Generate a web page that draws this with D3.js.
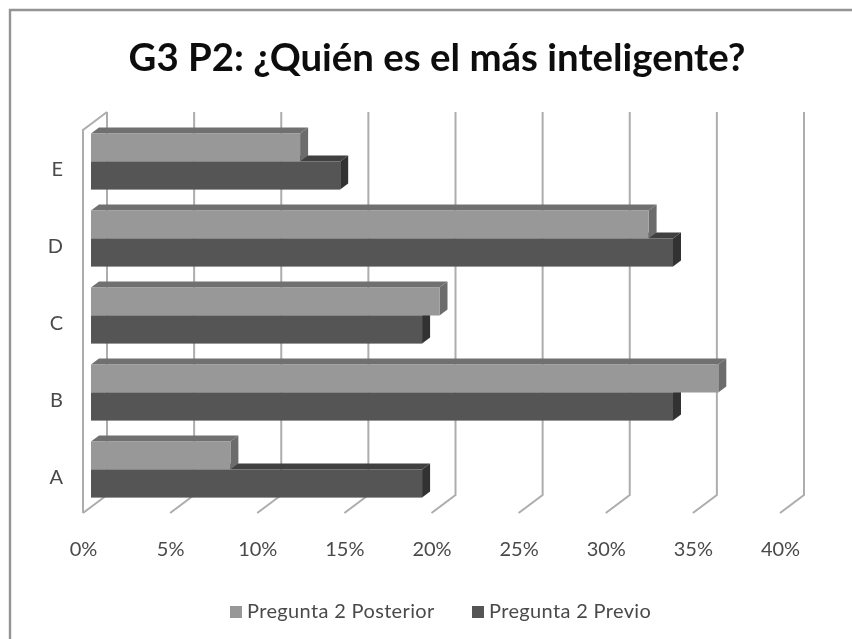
<!DOCTYPE html>
<html>
<head>
<meta charset="utf-8">
<script src="https://cdn.jsdelivr.net/npm/d3@7"></script>
<style>
  html, body { margin: 0; padding: 0; background: #fff; }
  text { font-family: Lato, sans-serif; }
</style>
</head>
<body>
<svg id="chart" width="852" height="639"></svg>
<script>
const categories = ['A', 'B', 'C', 'D', 'E']
const posterior = [8, 36, 20, 32, 12]
const previo = [19, 33.4, 19, 33.4, 14.3]
const ticks = [0, 5, 10, 15, 20, 25, 30, 35, 40]
const seriesNames = ['Pregunta 2 Posterior', 'Pregunta 2 Previo']

const depthX = 8, depthY = 6   // bar depth
const wallX = 24, wallY = 18   // chart box depth

const svg = d3.select('#chart')

// soft edges, the source is a blurry jpeg
svg.append('defs').append('filter').attr('id', 'soft')
  .append('feGaussianBlur').attr('stdDeviation', 0.7)

const root = svg.append('g').attr('filter', 'url(#soft)')

// frame runs off the right and bottom of the picture
root.append('path')
  .attr('d', d3.line()([[10, 660], [10, 10], [870, 10]]))
  .attr('fill', 'none').attr('stroke', '#949494').attr('stroke-width', 2.4)

root.append('text')
  .attr('x', 437).attr('y', 71)
  .attr('text-anchor', 'middle')
  .attr('font-size', 38.4).attr('font-weight', 700).attr('fill', '#111')
  .text('G3 P2: ¿Quién es el más inteligente?')

// scales
const xFront = d3.scaleLinear().domain([0, 40]).range([83, 780])
const xBar = d3.scaleLinear().domain([0, 40]).range([91, 788])
const yBand = d3.scaleBand().domain(categories).range([508, 123]).paddingInner(0.27).paddingOuter(0.135)
const yLabel = d3.scaleBand().domain(categories).range([516, 131])

// walls and gridlines
const grid = root.append('g').attr('fill', 'none').attr('stroke', '#adadad').attr('stroke-width', 2)
ticks.forEach(t => {
  const x = xFront(t)
  grid.append('path').attr('d', d3.line()([
    [x, 513], [x + wallX, 513 - wallY], [x + wallX, 130 - wallY]
  ]))
})
grid.append('path').attr('d', d3.line()([[83, 513], [83, 130], [83 + wallX, 130 - wallY]]))

// bars
function drawSeries(values, cls, yOff, face, top, side) {
  const h = yBand.bandwidth() / 2
  const g = root.append('g').attr('class', cls)
  categories.forEach((c, i) => {
    const x0 = xBar(0), x1 = xBar(values[i])
    const y0 = yBand(c) + yOff * h, y1 = y0 + h
    g.append('path').attr('fill', top).attr('d', d3.line()([
      [x0, y0], [x0 + depthX, y0 - depthY], [x1 + depthX, y0 - depthY], [x1, y0]
    ]) + 'Z')
    g.append('path').attr('fill', side).attr('d', d3.line()([
      [x1, y0], [x1 + depthX, y0 - depthY], [x1 + depthX, y1 - depthY], [x1, y1]
    ]) + 'Z')
    g.append('rect').attr('fill', face)
      .attr('x', x0).attr('y', y0).attr('width', x1 - x0).attr('height', h)
  })
}
drawSeries(previo, 'previo', 1, '#555555', '#3f3f3f', '#333333')
drawSeries(posterior, 'posterior', 0, '#989898', '#707070', '#6c6c6c')

// axes, labels only
const xAxis = root.append('g')
  .attr('transform', 'translate(0,539)')
  .call(d3.axisBottom(xFront).tickValues(ticks).tickFormat(d => d + '%').tickSize(0))
xAxis.select('.domain').remove()
xAxis.selectAll('text').attr('font-size', 20).attr('fill', '#4a4a4a').style('font-family', 'Lato, sans-serif')

const yAxis = root.append('g')
  .attr('transform', 'translate(63,0)')
  .call(d3.axisLeft(yLabel).tickSize(0).tickPadding(0))
yAxis.select('.domain').remove()
yAxis.selectAll('text').attr('font-size', 20).attr('fill', '#4a4a4a').style('font-family', 'Lato, sans-serif')

// legend
const legend = root.append('g')
seriesNames.forEach((name, i) => {
  const lx = [230, 472][i]
  legend.append('rect').attr('x', lx).attr('y', 606).attr('width', 12).attr('height', 12)
    .attr('fill', i ? '#555555' : '#989898')
  legend.append('text').attr('x', lx + 17).attr('y', 618)
    .attr('font-size', 20).attr('letter-spacing', 0.35).attr('fill', '#4a4a4a').text(name)
})
</script>
</body>
</html>
